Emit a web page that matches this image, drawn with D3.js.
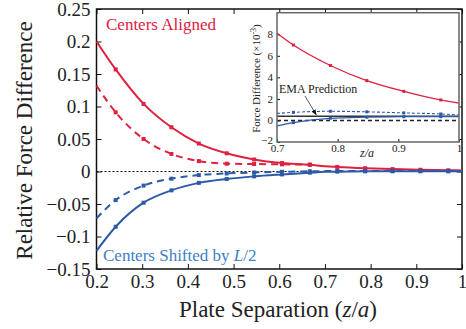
<!DOCTYPE html>
<html>
<head>
<meta charset="utf-8">
<script src="https://cdn.jsdelivr.net/npm/d3@7"></script>
<style>
  body { margin: 0; background: #fff; }
  svg, svg text { font-family: "Liberation Serif", "Times New Roman", "DejaVu Serif", serif !important; }
  text { fill: #222; }
</style>
</head>
<body>
<div id="chart"></div>
<script>
// plate separation grid (z/a) of the fitted curves
const zFit = [0.2, 0.242, 0.303, 0.364, 0.424, 0.485, 0.545, 0.606, 0.667, 0.7, 0.727, 0.788, 0.848, 0.909, 0.97, 1.0];
// relative force difference
const alignedSolid  = [0.200, 0.157, 0.104, 0.068, 0.043, 0.028, 0.0185, 0.013, 0.0104, 0.0081, 0.0070, 0.0051, 0.0037, 0.0027, 0.0019, 0.0016];
const alignedDashed = [0.132, 0.091, 0.050, 0.027, 0.016, 0.012, 0.0115, 0.011, 0.0105];
const shiftedDashed = [-0.072, -0.044, -0.0217, -0.011, -0.0055, -0.003, -0.0015, -0.0005, 0.0003, 0.00065, 0.00075, 0.00085, 0.0008, 0.0007, 0.0006, 0.0005];
const shiftedSolid  = [-0.122, -0.085, -0.048, -0.029, -0.0175, -0.0115, -0.0075, -0.0045, -0.0018, -0.0005, -0.0002, 0.0002, 0.0003, 0.00035, 0.00035, 0.00035];
const emaPrediction = 0.0004;
// points without a marker (curve ends)
const noMark = [0.2, 0.7, 1.0];

const xTicks = [0.2, 0.3, 0.4, 0.5, 0.6, 0.7, 0.8, 0.9, 1];
const yTicks = [-0.15, -0.1, -0.05, 0, 0.05, 0.1, 0.15, 0.2, 0.25];
const xTicksInset = [0.7, 0.8, 0.9, 1];
const yTicksInset = [-2, 0, 2, 4, 6, 8];

const red = "#e0203f", blue = "#2c5aa8", labelBlue = "#3b80c8";
const serif = "'Liberation Serif', 'Times New Roman', serif";

const W = 466, H = 329;
const svg = d3.select("#chart").append("svg").attr("width", W).attr("height", H)
    .attr("font-family", serif);

const x = d3.scaleLinear().domain([0.2, 1]).range([96.5, 462]);
const y = d3.scaleLinear().domain([-0.15, 0.25]).range([269, 9]);

const fmt = d => d3.format("")(+d.toFixed(2));

function series(vals) {
    return vals.map((v, i) => ({z: zFit[i], v: v}));
}

// main axes (inward ticks, boxed)
function styleAxis(g, size) {
    g.attr("font-family", serif);
    g.selectAll("text").style("font-size", size + "px").style("font-family", serif).attr("fill", "#222");
    g.selectAll("line").attr("stroke", "#111");
    g.select(".domain").attr("d", null);
}
svg.append("g").attr("transform", "translate(0,269)")
    .call(d3.axisBottom(x).tickValues(xTicks).tickSize(-5).tickPadding(6).tickSizeOuter(0).tickFormat(fmt))
    .call(g => styleAxis(g, 19));
svg.append("g").attr("transform", "translate(0,9)")
    .call(d3.axisTop(x).tickValues(xTicks).tickSize(-5).tickSizeOuter(0).tickFormat(""))
    .call(g => styleAxis(g, 19));
svg.append("g").attr("transform", "translate(96.5,0)")
    .call(d3.axisLeft(y).tickValues(yTicks).tickSize(-5).tickPadding(6).tickSizeOuter(0).tickFormat(fmt))
    .call(g => styleAxis(g, 19));
svg.append("g").attr("transform", "translate(462,0)")
    .call(d3.axisRight(y).tickValues(yTicks).tickSize(-5).tickSizeOuter(0).tickFormat(""))
    .call(g => styleAxis(g, 19));
svg.append("rect").attr("x", 96.5).attr("y", 9).attr("width", 462 - 96.5).attr("height", 260)
    .attr("fill", "none").attr("stroke", "#111").attr("stroke-width", 1.5);

// zero line
svg.append("line").attr("x1", x(0.2)).attr("x2", x(1)).attr("y1", y(0)).attr("y2", y(0))
    .attr("stroke", "#111").attr("stroke-width", 1).attr("stroke-dasharray", "2,2");

function drawSeries(g, xs, ys, vals, color, dash, width, mk, scaleV) {
    const data = series(vals).map(d => ({z: d.z, v: d.v * scaleV}))
        .filter(d => d.z >= xs.domain()[0] - 1e-9);
    const line = d3.line().x(d => xs(d.z)).y(d => ys(d.v)).curve(d3.curveMonotoneX);
    g.append("path").datum(data).attr("d", line).attr("fill", "none")
        .attr("stroke", color).attr("stroke-width", width)
        .attr("stroke-dasharray", dash);
    g.selectAll(null).data(data.filter(d => !noMark.some(n => Math.abs(n - d.z) < 1e-6)))
        .enter().append("rect")
        .attr("x", d => xs(d.z) - mk / 2).attr("y", d => ys(d.v) - mk / 2)
        .attr("width", mk).attr("height", mk).attr("fill", color);
}

const main = svg.append("g");
drawSeries(main, x, y, alignedDashed, red, "7,5", 2, 4, 1);
drawSeries(main, x, y, alignedSolid, red, null, 2, 4, 1);
drawSeries(main, x, y, shiftedDashed, blue, "7,5", 2, 4, 1);
drawSeries(main, x, y, shiftedSolid, blue, null, 2, 4, 1);

// labels
svg.append("text").attr("x", 106).attr("y", 30).style("font-size", "17px")
    .style("fill", red).text("Centers Aligned");
const sh = svg.append("text").attr("x", 103).attr("y", 261).style("font-size", "17px").style("fill", labelBlue);
sh.append("tspan").text("Centers Shifted by ");
sh.append("tspan").style("font-style", "italic").text("L");
sh.append("tspan").text("/2");

svg.append("text").attr("transform", "translate(32,140.5) rotate(-90)").attr("text-anchor", "middle")
    .style("font-size", "23px").text("Relative Force Difference");
const xl = svg.append("text").attr("x", 278).attr("y", 316.5).attr("text-anchor", "middle").style("font-size", "23px");
xl.append("tspan").text("Plate Separation (");
xl.append("tspan").style("font-style", "italic").text("z");
xl.append("tspan").text("/");
xl.append("tspan").style("font-style", "italic").text("a");
xl.append("tspan").text(")");

// inset
const xi = d3.scaleLinear().domain([0.7, 1]).range([277, 459]);
const yi = d3.scaleLinear().domain([-2, 10]).range([142, 12.7]);
const inset = svg.append("g");
inset.append("rect").attr("x", 277).attr("y", 12.7).attr("width", 182).attr("height", 129.3)
    .attr("fill", "#fff");
inset.append("g").attr("transform", "translate(0,142)")
    .call(d3.axisBottom(xi).tickValues(xTicksInset).tickSize(-3).tickPadding(2).tickSizeOuter(0).tickFormat(fmt))
    .call(g => styleAxis(g, 11));
inset.append("g").attr("transform", "translate(277,0)")
    .call(d3.axisLeft(yi).tickValues(yTicksInset).tickSize(-3).tickPadding(4).tickSizeOuter(0).tickFormat(d3.format("d")))
    .call(g => styleAxis(g, 11))
    .call(g => g.selectAll(".tick text").filter(d => d === -2).attr("dy", "0.1em"));

inset.append("line").attr("x1", xi(0.7)).attr("x2", xi(1)).attr("y1", yi(0)).attr("y2", yi(0))
    .attr("stroke", "#222").attr("stroke-width", 1.4).attr("stroke-dasharray", "4,3");
inset.append("line").attr("x1", xi(0.7)).attr("x2", xi(1)).attr("y1", yi(emaPrediction * 1000)).attr("y2", yi(emaPrediction * 1000))
    .attr("stroke", "#333").attr("stroke-width", 1.5);
drawSeries(inset, xi, yi, alignedSolid, red, null, 1.3, 3, 1000);
drawSeries(inset, xi, yi, shiftedDashed, blue, "3,2", 1.1, 3, 1000);
drawSeries(inset, xi, yi, shiftedSolid, blue, null, 1.3, 3, 1000);

inset.append("rect").attr("x", 277).attr("y", 12.7).attr("width", 182).attr("height", 129.3)
    .attr("fill", "none").attr("stroke", "#666").attr("stroke-width", 1.5);

const yt = inset.append("text").attr("transform", "translate(260,78.5) rotate(-90)")
    .attr("text-anchor", "middle").style("font-size", "11px");
yt.append("tspan").text("Force Difference (×10");
yt.append("tspan").attr("dy", -4).style("font-size", "8px").text("-3");
yt.append("tspan").attr("dy", 4).text(")");

inset.append("text").attr("x", 367).attr("y", 157).attr("text-anchor", "middle")
    .style("font-size", "12px").style("font-style", "italic").text("z/a");

inset.append("text").attr("x", 279).attr("y", 93).style("font-size", "12px").text("EMA Prediction");
svg.append("defs").append("marker").attr("id", "ah").attr("viewBox", "0 0 10 10")
    .attr("refX", 10).attr("refY", 5).attr("markerWidth", 7).attr("markerHeight", 7)
    .attr("orient", "auto")
    .append("path").attr("d", "M0,1 L10,5 L0,9 Z").attr("fill", "#111");
inset.append("line").attr("x1", 305).attr("y1", 96).attr("x2", xi(0.765)).attr("y2", yi(emaPrediction * 1000) - 1)
    .attr("stroke", "#333").attr("stroke-width", 0.8).attr("marker-end", "url(#ah)");
</script>
</body>
</html>
